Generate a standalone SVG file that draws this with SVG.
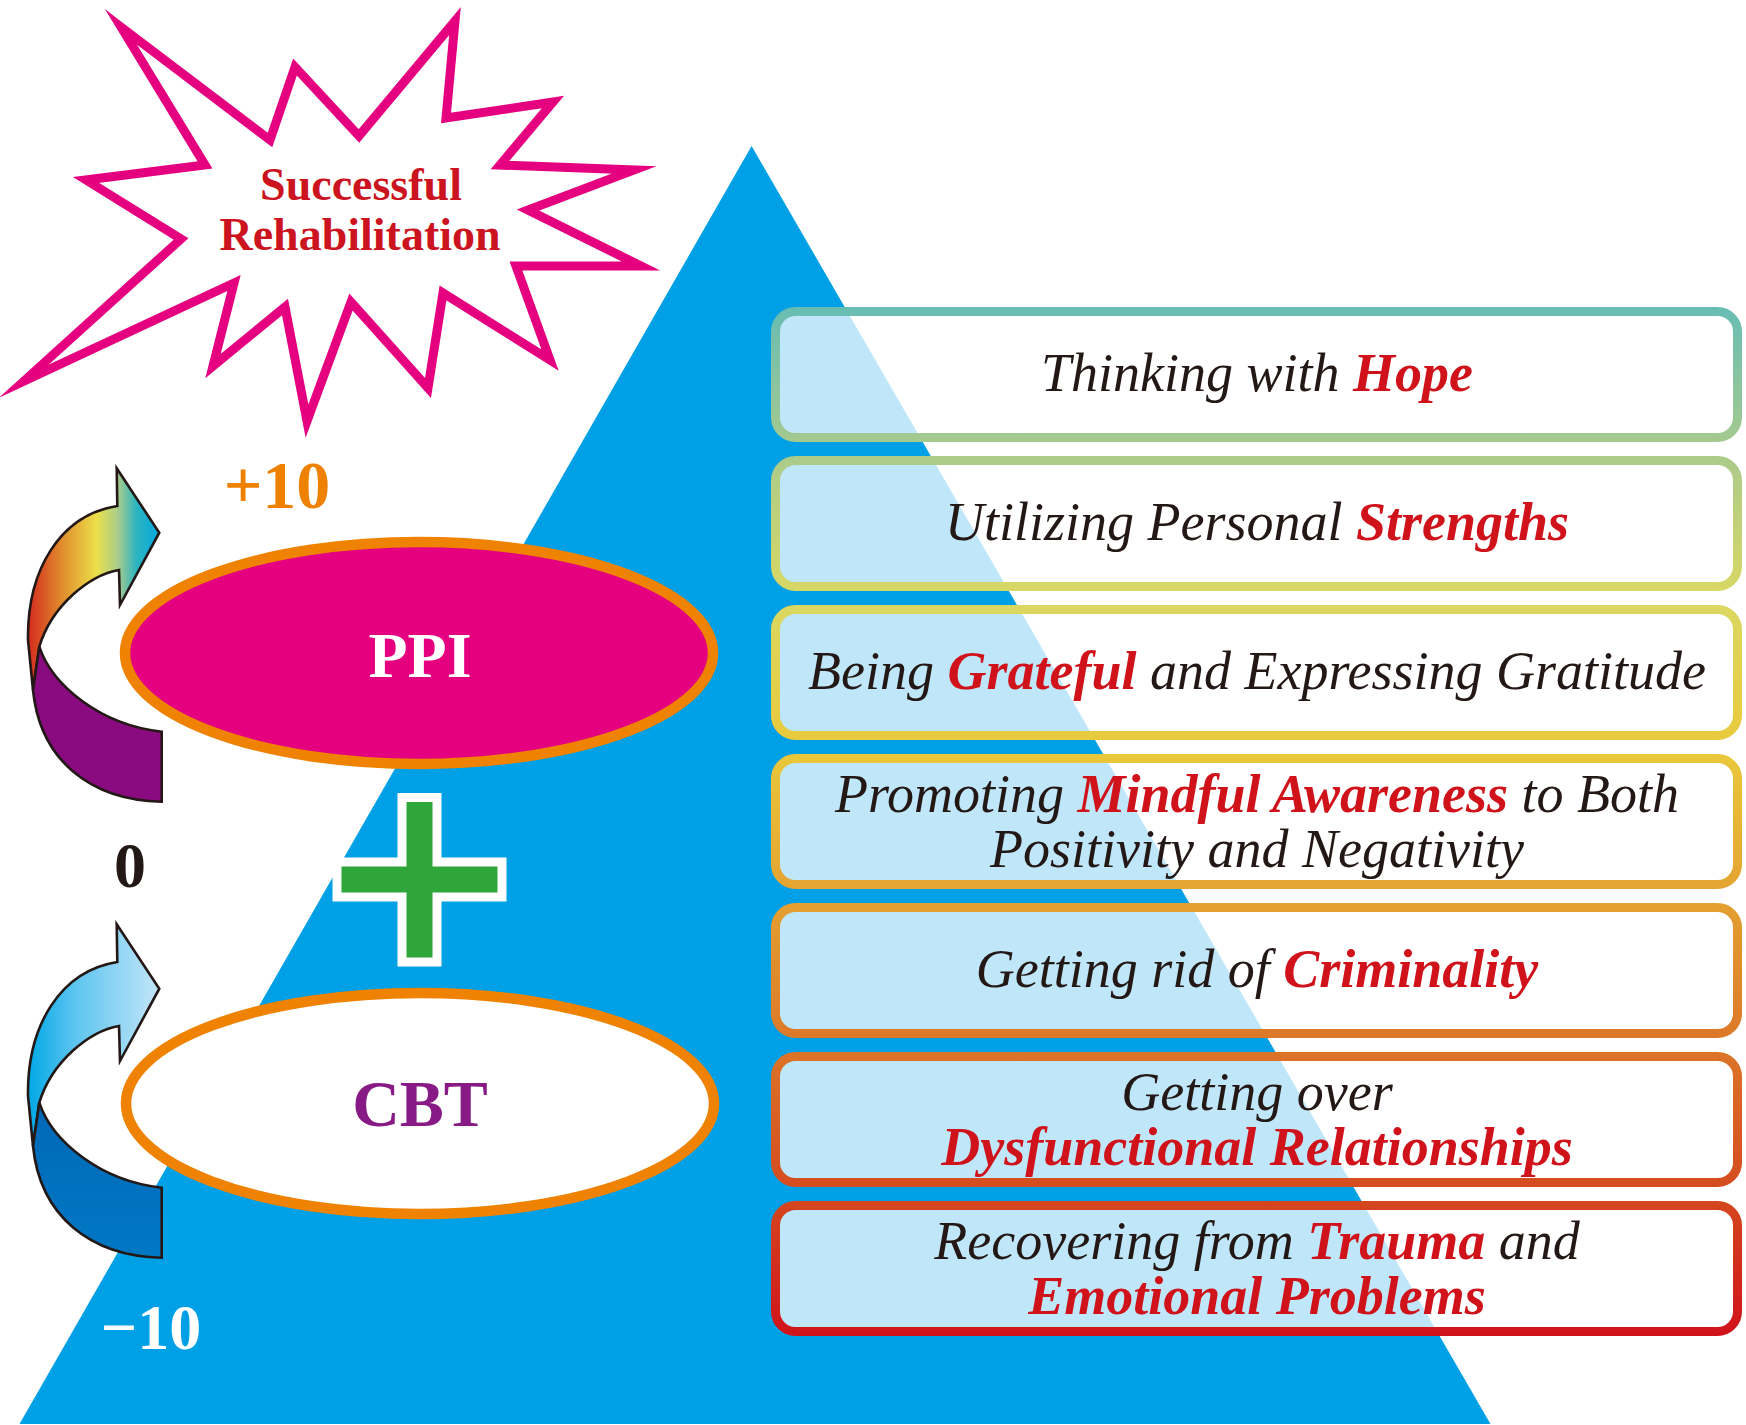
<svg xmlns="http://www.w3.org/2000/svg" width="1746" height="1425" viewBox="0 0 1746 1425">
<defs>
<linearGradient id="boxStroke" gradientUnits="userSpaceOnUse" x1="0" y1="307" x2="0" y2="1337">
<stop offset="0" stop-color="#67bdb4"/>
<stop offset="0.138" stop-color="#a8ca8d"/>
<stop offset="0.283" stop-color="#dad863"/>
<stop offset="0.428" stop-color="#eac93b"/>
<stop offset="0.572" stop-color="#e4a231"/>
<stop offset="0.717" stop-color="#dc7628"/>
<stop offset="0.862" stop-color="#d5491f"/>
<stop offset="1" stop-color="#d0121b"/>
</linearGradient>
<linearGradient id="rainbow" gradientUnits="userSpaceOnUse" x1="28" y1="0" x2="160" y2="0">
<stop offset="0" stop-color="#d42a1e"/>
<stop offset="0.25" stop-color="#e08a2c"/>
<stop offset="0.52" stop-color="#ece04a"/>
<stop offset="0.68" stop-color="#a9cc8c"/>
<stop offset="0.82" stop-color="#2db5c0"/>
<stop offset="1" stop-color="#00a8e0"/>
</linearGradient>
<linearGradient id="skyblue" gradientUnits="userSpaceOnUse" x1="28" y1="0" x2="160" y2="0">
<stop offset="0" stop-color="#00a8e6"/>
<stop offset="0.35" stop-color="#5cc4ef"/>
<stop offset="1" stop-color="#c4e6f9"/>
</linearGradient>
<linearGradient id="deepblue" gradientUnits="userSpaceOnUse" x1="0" y1="646" x2="0" y2="802">
<stop offset="0" stop-color="#0068b6"/>
<stop offset="1" stop-color="#0078c4"/>
</linearGradient>
<style>
.box{fill:#ffffff;fill-opacity:0.75;stroke:url(#boxStroke);stroke-width:9}
.bt{font-family:"Liberation Serif","Times New Roman",serif;font-style:italic;font-size:54px;fill:#231815;text-anchor:middle}
.red{fill:#d0121b;font-weight:bold}
.arrowline{stroke:#231815;stroke-width:2.6;stroke-linejoin:miter}
.serifb{font-family:"Liberation Serif","Times New Roman",serif;font-weight:bold;text-anchor:middle}
.ell{stroke:#ef8200;stroke-width:10.5}
</style>
</defs>
<rect x="0" y="0" width="1746" height="1425" fill="#ffffff"/>
<g id="pyramid">
<polygon points="751.6,146 1490.5,1424 19.5,1424" fill="#00a0e6"/>
</g>
<g id="box-1">
<rect class="box" x="775.5" y="311.5" width="962" height="126" rx="20"/>
<text class="bt" x="1257" y="391">Thinking with <tspan class="red">Hope</tspan></text>
</g>
<g id="box-2">
<rect class="box" x="775.5" y="460.5" width="962" height="126" rx="20"/>
<text class="bt" x="1257" y="540">Utilizing Personal <tspan class="red">Strengths</tspan></text>
</g>
<g id="box-3">
<rect class="box" x="775.5" y="609.5" width="962" height="126" rx="20"/>
<text class="bt" x="1257" y="689">Being <tspan class="red">Grateful</tspan> and Expressing Gratitude</text>
</g>
<g id="box-4">
<rect class="box" x="775.5" y="758.5" width="962" height="126" rx="20"/>
<text class="bt" x="1257" y="811.5">Promoting <tspan class="red">Mindful Awareness</tspan> to Both</text>
<text class="bt" x="1257" y="866.5">Positivity and Negativity</text>
</g>
<g id="box-5">
<rect class="box" x="775.5" y="907.5" width="962" height="126" rx="20"/>
<text class="bt" x="1257" y="987">Getting rid of <tspan class="red">Criminality</tspan></text>
</g>
<g id="box-6">
<rect class="box" x="775.5" y="1056.5" width="962" height="126" rx="20"/>
<text class="bt" x="1257" y="1109.5">Getting over</text>
<text class="bt" x="1257" y="1164.5"><tspan class="red">Dysfunctional Relationships</tspan></text>
</g>
<g id="box-7">
<rect class="box" x="775.5" y="1205.5" width="962" height="126" rx="20"/>
<text class="bt" x="1257" y="1258.5">Recovering from <tspan class="red">Trauma</tspan> and</text>
<text class="bt" x="1257" y="1313.5"><tspan class="red">Emotional Problems</tspan></text>
</g>
<g id="starburst">
<polygon points="121,27 270,140 295,67 359,136 455,21 446,118 553,102 500,165 634,170 528,210 641,266 516,266 550,360 443,293 428,388 351,302 307,421 285,307 213,366 234,283 24,381 181,239 86,180 205,165" fill="#ffffff" stroke="#e4007f" stroke-width="9" stroke-linejoin="miter" stroke-miterlimit="20"/>
<text class="serifb" x="361" y="200" font-size="46" fill="#cc1420">Successful</text>
<text class="serifb" x="360" y="250" font-size="46" fill="#cc1420">Rehabilitation</text>
</g>
<g id="connectors">
<g id="arrow-up">
<path class="arrowline" fill="url(#rainbow)" d="M117.3,506 L116.7,468.3 L159.3,532.7 L120,605 L119,570 C90,575 52,605 39.3,646.7 L33,690 L28,640 C27,570 60,515 117.3,506 Z"/>
<path class="arrowline" fill="#8a0b80" d="M39.3,646.7 C52,685 100,725 161.7,731.7 L161.7,801.7 C90,800 40,760 33,690 Z"/>
</g>
<g id="arrow-down" transform="translate(0,456)">
<path class="arrowline" fill="url(#skyblue)" d="M117.3,506 L116.7,468.3 L159.3,532.7 L120,605 L119,570 C90,575 52,605 39.3,646.7 L33,690 L28,640 C27,570 60,515 117.3,506 Z"/>
<path class="arrowline" fill="url(#deepblue)" d="M39.3,646.7 C52,685 100,725 161.7,731.7 L161.7,801.7 C90,800 40,760 33,690 Z"/>
</g>
</g>
<g id="node-ppi">
<ellipse class="ell" cx="419" cy="653" rx="294" ry="111" fill="#e4007f"/>
<text class="serifb" x="420" y="677" font-size="64" fill="#ffffff">PPI</text>
</g>
<g id="plus">
<path d="M406.5,802 H432.5 V866.5 H497.5 V892.5 H432.5 V957.5 H406.5 V892.5 H341.5 V866.5 H406.5 Z" fill="#2ea63a" stroke="#ffffff" stroke-width="18" stroke-linejoin="miter" paint-order="stroke"/>
</g>
<g id="node-cbt">
<ellipse class="ell" cx="420" cy="1103.5" rx="294" ry="110.5" fill="#ffffff"/>
<text class="serifb" x="420" y="1126" font-size="66" fill="#881a85">CBT</text>
</g>
<g id="scale-labels">
<text class="serifb" x="277" y="508" font-size="68" fill="#ee8200">+10</text>
<text class="serifb" x="130" y="887" font-size="64" fill="#231815">0</text>
<text class="serifb" x="151" y="1349" font-size="64" fill="#ffffff">−10</text>
</g>
</svg>
